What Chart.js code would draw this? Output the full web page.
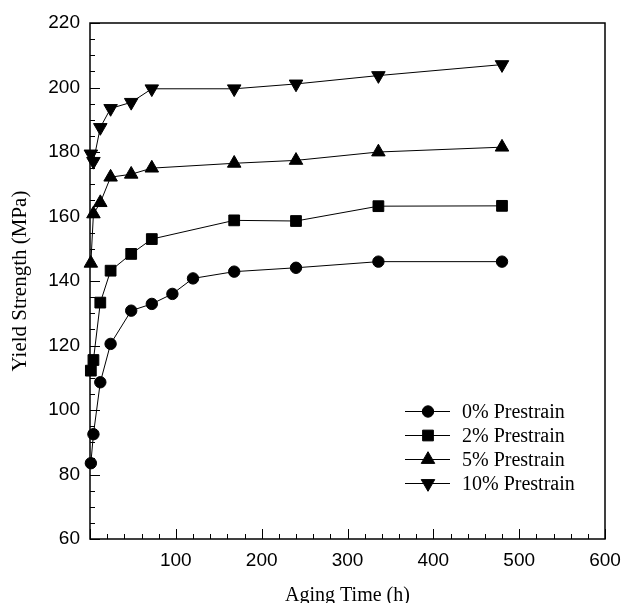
<!DOCTYPE html>
<html>
<head>
<meta charset="utf-8">
<script src="https://cdn.jsdelivr.net/npm/chart.js@4.4.1/dist/chart.umd.min.js"></script>
<style>
    body { margin: 0; background: #fff; }
    #caixa { width: 623px; height: 603px; }
</style>
</head>
<body>
<div id="caixa"><canvas id="grafico"></canvas></div>
<script>
// tempos de envelhecimento (h)
const tempos = [1, 4, 12, 24, 48, 72, 168, 240, 336, 480];
const tempos0 = [1, 4, 12, 24, 48, 72, 96, 120, 168, 240, 336, 480];

// limite de escoamento (MPa) por pré-deformação
const pre0 = [83.5, 92.5, 108.6, 120.5, 130.8, 132.9, 136.0, 140.8, 142.9, 144.1, 146.0, 146.0];
const pre2 = [112.2, 115.5, 133.3, 143.2, 148.4, 153.0, 158.8, 158.6, 163.2, 163.3];
const pre5 = [145.5, 160.8, 164.3, 172.2, 173.1, 175.0, 176.5, 177.4, 180.0, 181.5];
const pre10 = [179.4, 177.1, 187.6, 193.5, 195.4, 199.6, 199.6, 201.1, 203.7, 207.1];

const nomes = ['0% Prestrain', '2% Prestrain', '5% Prestrain', '10% Prestrain'];
const marcadores = ['circle', 'rect', 'triangle', 'triangle'];
const raios = [5.7, 7.6, 7.8, 7.8];
const rotacoes = [0, 0, 0, 180];

const xTicks = [0, 100, 200, 300, 400, 500, 600];
const yTicks = [60, 80, 100, 120, 140, 160, 180, 200, 220];

const pares = (xs, ys) => xs.map((x, i) => ({ x: x, y: ys[i] }));
const series = [pares(tempos0, pre0), pares(tempos, pre2), pares(tempos, pre5), pares(tempos, pre10)];

const datasets = series.map((dados, i) => ({
    label: nomes[i],
    data: dados,
    borderColor: '#000',
    borderWidth: 1,
    backgroundColor: '#000',
    pointStyle: marcadores[i],
    pointRadius: raios[i],
    pointRotation: rotacoes[i],
    pointBackgroundColor: '#000',
    pointBorderColor: '#000',
    pointBorderWidth: 1,
    tension: 0,
    clip: false
}));

// moldura e marcas internas dos eixos
const moldura = {
    id: 'moldura',
    afterDraw(chart) {
        const { ctx, chartArea: a, scales } = chart;
        ctx.save();
        ctx.strokeStyle = '#000';
        ctx.lineWidth = 1.5;
        ctx.strokeRect(a.left, a.top, a.right - a.left, a.bottom - a.top);

        ctx.lineWidth = 1;
        ctx.beginPath();
        for (let v = 0; v <= 600; v += 20) {
            const px = Math.round(scales.x.getPixelForValue(v)) + 0.5;
            const len = v % 100 === 0 ? 10 : 5;
            ctx.moveTo(px, a.bottom);
            ctx.lineTo(px, a.bottom - len);
        }
        for (let v = 60; v <= 220; v += 5) {
            const py = Math.round(scales.y.getPixelForValue(v)) + 0.5;
            const len = v % 20 === 0 ? 10 : 5;
            ctx.moveTo(a.left, py);
            ctx.lineTo(a.left + len, py);
        }
        ctx.stroke();
        ctx.restore();
    }
};

// legenda dentro da área do gráfico
const legenda = {
    id: 'legenda',
    afterDraw(chart) {
        const { ctx, chartArea: a } = chart;
        const x0 = a.left + 315, x1 = a.left + 360, xm = a.left + 338, xt = a.left + 372;
        ctx.save();
        ctx.font = '20px "Liberation Serif"';
        ctx.textBaseline = 'middle';
        chart.data.datasets.forEach((ds, i) => {
            const y = a.top + 388.5 + i * 24;
            ctx.strokeStyle = '#000';
            ctx.lineWidth = 1;
            ctx.beginPath();
            ctx.moveTo(x0, y);
            ctx.lineTo(x1, y);
            ctx.stroke();
            ctx.fillStyle = '#000';
            Chart.helpers.drawPoint(ctx, {
                pointStyle: ds.pointStyle,
                radius: ds.pointRadius,
                rotation: ds.pointRotation,
                borderWidth: 1
            }, xm, y);
            ctx.fillStyle = '#000';
            ctx.fillText(ds.label, xt, y + 1);
        });
        ctx.restore();
    }
};

new Chart(document.getElementById('grafico'), {
    type: 'line',
    data: { datasets: datasets },
    options: {
        responsive: true,
        maintainAspectRatio: false,
        animation: false,
        layout: { padding: { top: 23, right: 18, left: 0, bottom: 0 } },
        plugins: {
            legend: { display: false },
            tooltip: { enabled: false }
        },
        scales: {
            x: {
                type: 'linear',
                min: 0,
                max: 600,
                afterBuildTicks: s => { s.ticks = xTicks.map(v => ({ value: v })); },
                afterFit: s => { s.height = 64; s.paddingLeft = 0; s.paddingRight = 0; },
                grid: { display: false, drawTicks: false },
                border: { display: false },
                ticks: {
                    padding: 10,
                    color: '#000',
                    font: { family: '"Liberation Sans", Arial', size: 19 },
                    callback: v => v === 0 ? '' : v
                },
                title: {
                    display: true,
                    text: 'Aging Time (h)',
                    color: '#000',
                    font: { family: '"Liberation Serif", serif', size: 20, lineHeight: 0.73 },
                    padding: 0
                }
            },
            y: {
                type: 'linear',
                min: 60,
                max: 220,
                afterBuildTicks: s => { s.ticks = yTicks.map(v => ({ value: v })); },
                afterFit: s => { s.width = 90; s.paddingTop = 0; s.paddingBottom = 0; },
                grid: { display: false, drawTicks: false },
                border: { display: false },
                ticks: {
                    padding: 10,
                    color: '#000',
                    font: { family: '"Liberation Sans", Arial', size: 19 }
                },
                title: {
                    display: true,
                    text: 'Yield Strength (MPa)',
                    color: '#000',
                    font: { family: '"Liberation Serif", serif', size: 21, lineHeight: 1 },
                    padding: { top: 9.7, bottom: 0 }
                }
            }
        }
    },
    plugins: [moldura, legenda]
});
</script>
</body>
</html>
